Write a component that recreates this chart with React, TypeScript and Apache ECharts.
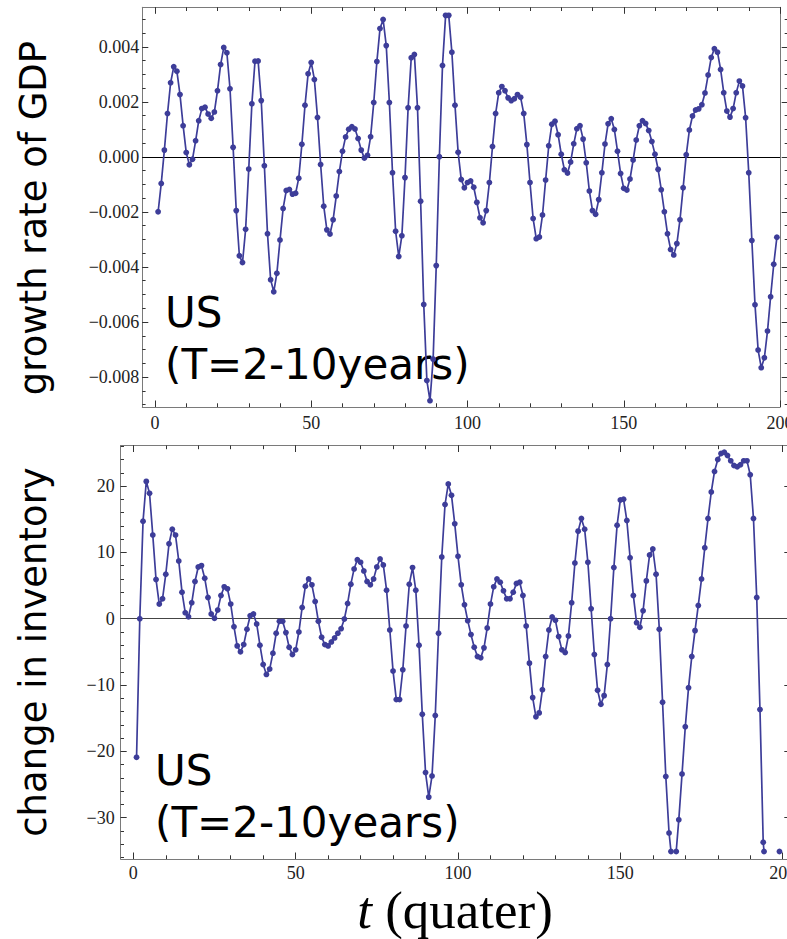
import React, { useEffect, useRef } from "react";
import * as echarts from "echarts";

// ---------- data ----------
const quarterTicks = [0, 50, 100, 150, 200];
const quarterMinorTicks = [0, 10, 20, 30, 40, 50, 60, 70, 80, 90, 100, 110, 120, 130, 140, 150, 160, 170, 180, 190, 200];
const growthTicks = [-0.008, -0.006, -0.004, -0.002, 0, 0.002, 0.004];
const inventoryTicks = [-30, -20, -10, 0, 10, 20];

// growth rate of GDP, quarters 1..199
const growthRate = [
  -0.00199, -0.00096, 0.00025, 0.00158, 0.0027, 0.00328, 0.00312, 0.00227, 0.00114, 0.00016,
  -0.00028, -0.00008, 0.00059, 0.00132, 0.00176, 0.00181, 0.00156, 0.00141, 0.00164, 0.00241,
  0.00336, 0.00398, 0.00379, 0.00248, 0.00035, -0.00195, -0.00359, -0.00384, -0.00263, -0.00044,
  0.00194, 0.00348, 0.00349, 0.00205, -0.00032, -0.00279, -0.00446, -0.0049, -0.00423, -0.00302,
  -0.00187, -0.00122, -0.00118, -0.00135, -0.00132, -0.00077, 0.00046, 0.00188, 0.00303, 0.00344,
  0.00282, 0.00144, -0.00027, -0.00179, -0.00265, -0.0028, -0.00228, -0.00142, -0.00053, 0.00021,
  0.00073, 0.00101, 0.0011, 0.00102, 0.00067, 0.00025, -0.00004, 0.00006, 0.00074, 0.00198,
  0.00347, 0.00467, 0.005, 0.00405, 0.00198, -0.00057, -0.0027, -0.00362, -0.00286, -0.00075,
  0.00179, 0.00361, 0.00373, 0.00179, -0.00161, -0.00536, -0.00813, -0.00886, -0.00735, -0.00395,
  0.00001, 0.00333, 0.00515, 0.00515, 0.00381, 0.00188, 0.00017, -0.00082, -0.00112, -0.00093,
  -0.00087, -0.0011, -0.00165, -0.00221, -0.00239, -0.00195, -0.00093, 0.00038, 0.00158, 0.00234,
  0.00256, 0.00241, 0.00215, 0.00205, 0.00212, 0.00227, 0.00217, 0.00158, 0.00045, -0.00093,
  -0.00224, -0.00297, -0.00291, -0.00211, -0.00084, 0.00041, 0.00119, 0.0013, 0.00081, 0.0001,
  -0.00046, -0.00058, -0.00018, 0.00048, 0.00103, 0.00114, 0.00065, -0.00021, -0.00124, -0.00195,
  -0.00208, -0.00155, -0.00057, 0.00047, 0.00121, 0.00139, 0.001, 0.00021, -0.0006, -0.00114,
  -0.0012, -0.0008, -0.00011, 0.00062, 0.00114, 0.00132, 0.00122, 0.00096, 0.00056, 0.0001,
  -0.00045, -0.00119, -0.00199, -0.00279, -0.00336, -0.00356, -0.00315, -0.00228, -0.00112, 0.00008,
  0.00098, 0.00149, 0.00171, 0.00175, 0.0019, 0.00233, 0.00298, 0.00362, 0.00394, 0.00381,
  0.00318, 0.00234, 0.00167, 0.00145, 0.00176, 0.00234, 0.00276, 0.00258, 0.00143, -0.00057,
  -0.00304, -0.00537, -0.00702, -0.00766, -0.0073, -0.00633, -0.00508, -0.0039, -0.00292,
];

// change in inventory, quarters 1..199 (null = below the plotted range)
const inventoryChange = [
  -20.9, 0, 14.7, 20.7, 18.9, 12.6, 5.9, 2.2, 3.0, 6.7,
  11.3, 13.5, 12.6, 8.7, 4.0, 0.9, 0.3, 2.4, 5.6, 7.8,
  8.0, 6.1, 3.2, 0.7, 0.05, 1.3, 3.5, 4.8, 4.5, 2.2,
  -1.2, -4.1, -5.0, -3.9, -1.6, 0.45, 0.7, -0.8, -4.0, -6.9,
  -8.4, -7.6, -5.2, -2.2, -0.4, -0.4, -2.1, -4.3, -5.4, -4.7,
  -2.0, 1.7, 4.9, 6.0, 5.1, 2.6, -0.4, -2.8, -3.9, -4.1,
  -3.5, -2.9, -2.2, -1.5, -0.05, 2.3, 5.2, 7.5, 8.9, 8.5,
  7.2, 5.6, 5.1, 6.0, 7.8, 9.0, 8.1, 4.3, -1.7, -7.9,
  -12.2, -12.2, -7.7, -1.1, 5.2, 7.7, 4.3, -4.0, -14.4, -23.2,
  -26.9, -23.7, -14.6, -2.2, 9.3, 17.2, 20.3, 18.6, 14.3, 9.4,
  5.1, 2.1, -0.3, -2.4, -4.3, -5.7, -5.9, -4.4, -1.4, 2.2,
  4.8, 6.0, 5.5, 4.2, 3.0, 3.0, 4.0, 5.3, 5.5, 3.5,
  -1.1, -6.7, -11.9, -14.8, -14.2, -10.7, -5.7, -1.7, 0.25, -0.25,
  -2.7, -4.7, -5.1, -2.6, 2.4, 8.4, 13.2, 15.1, 13.5, 8.5,
  1.5, -5.4, -10.8, -12.9, -11.6, -6.9, 0, 7.7, 14.1, 17.9,
  18.0, 14.8, 9.2, 3.5, -0.6, -1.3, 1.2, 5.7, 9.6, 10.5,
  6.7, -1.6, -12.6, -23.8, -32.3, null, null, -30.3, -23.4, -16.3,
  -10.4, -5.7, -1.8, 2.0, 6.0, 10.7, 15.1, 19.1, 22.2, 24.0,
  24.9, 25.1, 24.6, 23.8, 23.1, 22.9, 23.2, 23.8, 23.8, 21.7,
  15.1, 3.2, -13.7, -33.7, null, null, null, null, -35.1,
];
// where the plotted line leaves / re-enters the lower plot-range edge
const inventoryRangeFloor = -35.1;
const inventoryEdgeQuarters = [165.6, 167.2, 194.25];

// ---------- styling ----------
const LINE_COLOR = "#3d3d99";
const FRAME = "#7a7a7a";
const TICK = "#333";
const LABEL = { fontFamily: "Liberation Serif", fontSize: 18, color: "#222" };

const growthMinor: number[] = [];
for (let k = -18; k <= 10; k++) growthMinor.push(Math.round(k * 5) / 10000);
const inventoryMinor: number[] = [];
for (let k = -18; k <= 13; k++) inventoryMinor.push(2 * k);

const fmtGrowth = (v: number) => (v < 0 ? "\u2212" : "") + Math.abs(v).toFixed(3);
const fmtInv = (v: number) => (v < 0 ? "\u2212" + Math.abs(v) : String(v));

function xAxesFor(g: number, min: number, max: number, labelMargin: number) {
  const base = { type: "value", gridIndex: g, min, max, splitLine: { show: false } };
  const tick = (vals: number[], len: number) => ({
    show: true, inside: true, length: len, customValues: vals,
    lineStyle: { color: TICK, width: 1 },
  });
  return [
    {
      ...base, position: "bottom",
      axisLine: { show: true, onZero: false, lineStyle: { color: FRAME, width: 1 } },
      axisTick: tick(quarterTicks, 6.5),
      axisLabel: { show: true, customValues: quarterTicks, margin: labelMargin, ...LABEL },
    },
    {
      ...base, position: "bottom",
      axisLine: { show: false, onZero: false },
      axisTick: tick(quarterMinorTicks, 3.7),
      axisLabel: { show: false },
    },
    {
      ...base, position: "top",
      axisLine: { show: true, onZero: false, lineStyle: { color: FRAME, width: 1 } },
      axisTick: tick(quarterTicks, 6.5),
      axisLabel: { show: false },
    },
    {
      ...base, position: "top",
      axisLine: { show: false, onZero: false },
      axisTick: tick(quarterMinorTicks, 3.7),
      axisLabel: { show: false },
    },
  ];
}

function yAxesFor(
  g: number, min: number, max: number, majors: number[], minors: number[],
  fmt: (v: number) => string, labelMargin: number, rightOffset: number, rightLine: boolean
) {
  const base = { type: "value", gridIndex: g, min, max, splitLine: { show: false } };
  const tick = (vals: number[], len: number) => ({
    show: true, inside: true, length: len, customValues: vals,
    lineStyle: { color: TICK, width: 1 },
  });
  const axes: any[] = [
    {
      ...base, position: "left",
      axisLine: { show: true, onZero: false, lineStyle: { color: FRAME, width: 1 } },
      axisTick: tick(majors, 6),
      axisLabel: { show: true, customValues: majors, margin: labelMargin, formatter: fmt, ...LABEL },
    },
    {
      ...base, position: "left",
      axisLine: { show: false, onZero: false },
      axisTick: tick(minors, 3.3),
      axisLabel: { show: false },
    },
    {
      ...base, position: "right", offset: rightOffset,
      axisLine: { show: false, onZero: false },
      axisTick: tick(majors, 6),
      axisLabel: { show: false },
    },
    {
      ...base, position: "right", offset: rightOffset,
      axisLine: { show: false, onZero: false },
      axisTick: tick(minors, 3),
      axisLabel: { show: false },
    },
  ];
  if (rightLine) {
    axes.push({
      ...base, position: "right", offset: 0,
      axisLine: { show: true, onZero: false, lineStyle: { color: FRAME, width: 1 } },
      axisTick: { show: false },
      axisLabel: { show: false },
    });
  }
  return axes;
}

function buildOption() {
  const topData = growthRate.map((v, i) => [i + 1, v]);

  const bottomData: any[] = inventoryChange.map((v, i) => [i + 1, v === null ? "-" : v]);
  inventoryEdgeQuarters.forEach((q) => bottomData.push([q, inventoryRangeFloor]));
  bottomData.sort((a, b) => a[0] - b[0]);

  const xTop = xAxesFor(0, -4.064, 200, 7);
  const xBottom = xAxesFor(1, -3.881, 202.34, 5);
  const yTop = yAxesFor(0, -0.0090909, 0.0054436, growthTicks, growthMinor, fmtGrowth, 3, 7.7, true);
  const yBottom = yAxesFor(1, -36.23, 26.11, inventoryTicks, inventoryMinor, fmtInv, 6, 0, false);

  const seriesCommon = {
    type: "line",
    symbol: "circle",
    symbolSize: 5.8,
    showSymbol: true,
    showAllSymbol: true,
    connectNulls: false,
    lineStyle: { color: LINE_COLOR, width: 1.7 },
    itemStyle: { color: LINE_COLOR, borderWidth: 0 },
    emphasis: { disabled: true },
    silent: true,
    z: 3,
  };

  const textFont = { fontFamily: "DejaVu Sans", fill: "#000" };

  return {
    animation: false,
    backgroundColor: "#fff",
    grid: [
      { left: 142.3, top: 7.3, width: 637.7, height: 399.7, containLabel: false, outerBoundsMode: "none", show: false },
      { left: 120.7, top: 445.5, width: 669.6, height: 413.5, containLabel: false, outerBoundsMode: "none", show: false },
    ],
    xAxis: [...xTop, ...xBottom],
    yAxis: [...yTop, ...yBottom],
    series: [
      {
        ...seriesCommon,
        xAxisIndex: 0,
        yAxisIndex: 0,
        data: topData,
        markLine: {
          silent: true,
          symbol: ["none", "none"],
          label: { show: false },
          lineStyle: { color: "#000", width: 1, type: "solid" },
          emphasis: { disabled: true },
          data: [{ yAxis: 0 }],
          z: 1,
        },
      },
      {
        ...seriesCommon,
        xAxisIndex: 4,
        yAxisIndex: 5,
        data: bottomData,
        markLine: {
          silent: true,
          symbol: ["none", "none"],
          label: { show: false },
          lineStyle: { color: "#444", width: 1, type: "solid" },
          emphasis: { disabled: true },
          data: [{ yAxis: 0 }],
          z: 1,
        },
      },
    ],
    graphic: [
      {
        type: "text", x: 33, y: 218, rotation: Math.PI / 2,
        style: { ...textFont, text: "growth rate of GDP", fontSize: 37, align: "center", verticalAlign: "middle" },
      },
      {
        type: "text", x: 33, y: 652, rotation: Math.PI / 2,
        style: { ...textFont, text: "change in inventory", fontSize: 37, align: "center", verticalAlign: "middle" },
      },
      { type: "text", x: 165, y: 312, style: { ...textFont, text: "US", fontSize: 42, align: "left", verticalAlign: "middle" } },
      { type: "text", x: 165, y: 364, style: { ...textFont, text: "(T=2-10years)", fontSize: 42, align: "left", verticalAlign: "middle" } },
      { type: "text", x: 155, y: 770, style: { ...textFont, text: "US", fontSize: 42, align: "left", verticalAlign: "middle" } },
      { type: "text", x: 155, y: 822, style: { ...textFont, text: "(T=2-10years)", fontSize: 42, align: "left", verticalAlign: "middle" } },
      {
        type: "text", x: 455, y: 910,
        style: {
          text: "{it|t} (quater)",
          fontFamily: "Liberation Serif",
          fontSize: 53,
          fill: "#000",
          align: "center",
          verticalAlign: "middle",
          rich: { it: { fontStyle: "italic", fontFamily: "Liberation Serif", fontSize: 53, fill: "#000" } },
        },
      },
    ],
  };
}

export default function App() {
  const ref = useRef<HTMLDivElement>(null);
  useEffect(() => {
    if (!ref.current) return;
    const chart = echarts.init(ref.current, null, { renderer: "svg", width: 787, height: 939 });
    chart.setOption(buildOption() as any);
    return () => chart.dispose();
  }, []);
  return (
    <div
      ref={ref}
      style={{ position: "absolute", left: 0, top: 0, width: 787, height: 939, background: "#fff", overflow: "hidden" }}
    />
  );
}
